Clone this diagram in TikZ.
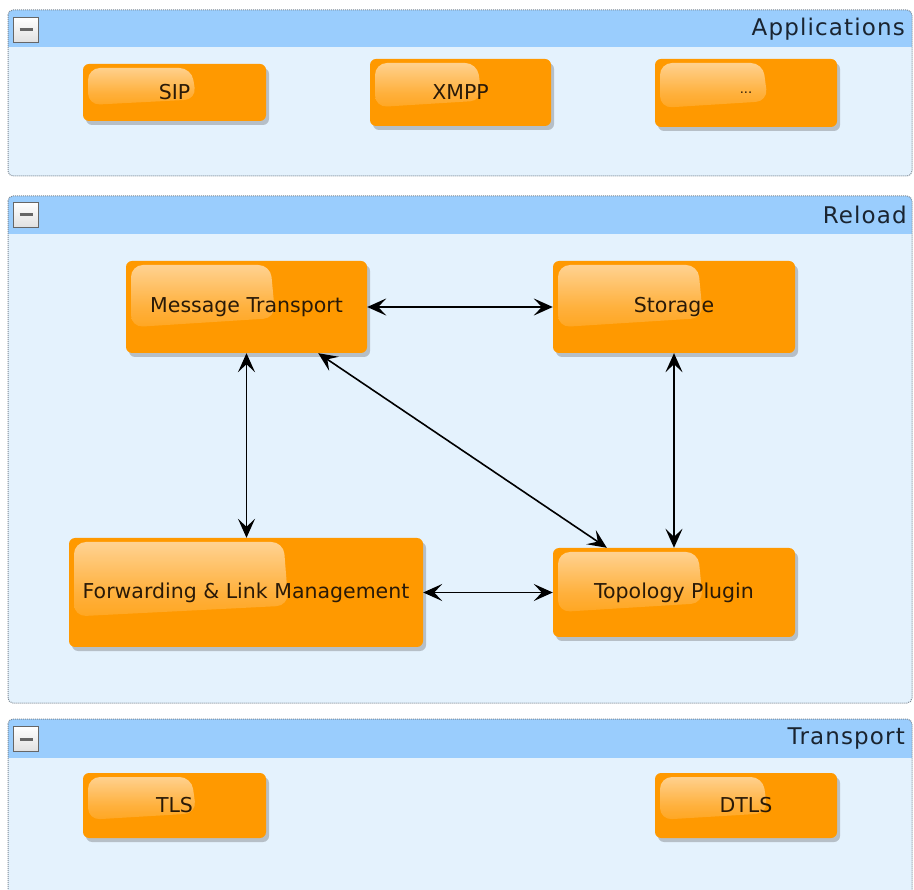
\documentclass[tikz,border=0pt]{standalone}
\usepackage{fontspec}
\setmainfont{DejaVu Sans}
\newfontfamily\paneltitlefont[LetterSpace=5]{DejaVu Sans}
\usetikzlibrary{shadows,arrows.meta,calc}
\definecolor{boxorange}{HTML}{FF9900}
\definecolor{glossc}{HTML}{FFDCAA}
\definecolor{panelbody}{HTML}{E4F2FD}
\definecolor{panelhead}{HTML}{9ACDFD}
\definecolor{panelborder}{HTML}{7C8894}
\definecolor{boxtext}{HTML}{2A1A08}
\definecolor{titletext}{HTML}{1A2430}
\begin{document}
\begin{tikzpicture}[x=1pt,y=-1pt,
  compbox/.style={rectangle, rounded corners=6pt, fill=boxorange, draw=none,
    text=boxtext, font=\fontsize{20.5}{24}\selectfont, inner sep=0pt,
    drop shadow={shadow xshift=3pt,shadow yshift=-4pt,opacity=0.3,fill=black!70},
    path picture={
      \fill[rounded corners=12pt, top color=glossc, bottom color=boxorange, middle color=boxorange!60!glossc, opacity=0.9]
        ([xshift=5pt,yshift=-4pt]path picture bounding box.north west)
        -- ([xshift=-5pt,yshift=-4pt]$(path picture bounding box.north west)!0.62!(path picture bounding box.north east)$)
        -- ($(path picture bounding box.north west)!0.62!(path picture bounding box.south east)$)
        -- ([xshift=5pt]$(path picture bounding box.north west)!0.72!(path picture bounding box.south west)$)
        -- cycle;
    }},
  paneltitle/.style={anchor=east, text=titletext, font=\paneltitlefont\fontsize{23}{26}\selectfont, inner sep=0pt},
  collapse/.style={rectangle, draw=black!60, line width=0.8pt, top color=white, bottom color=black!12,
    minimum width=25pt, minimum height=25pt, inner sep=0pt,
    path picture={
      \draw[line width=3pt] ([xshift=6pt]path picture bounding box.west) -- ([xshift=-6pt]path picture bounding box.east);
    }},
  conn/.style={{Stealth[length=19pt,width=17pt,inset=8pt]}-{Stealth[length=19pt,width=17pt,inset=8pt]}, line width=1.6pt, black}
]
\useasboundingbox (0,0) rectangle (914,890);
\fill[white] (0,0) rectangle (914,890);

\begin{scope}
\clip (0,0) rectangle (914,890);
% Applications panel
\fill[panelbody, rounded corners=5pt] (8,10) rectangle (912,176);
\begin{scope}
\clip[rounded corners=5pt] (8,10) rectangle (912,176);
\fill[panelhead] (8,10) rectangle (912,47);
\end{scope}
\draw[panelborder, densely dotted, line width=1pt, rounded corners=5pt] (8,10) rectangle (912,176);
% Reload panel
\fill[panelbody, rounded corners=5pt] (8,196) rectangle (912,703);
\begin{scope}
\clip[rounded corners=5pt] (8,196) rectangle (912,703);
\fill[panelhead] (8,196) rectangle (912,234);
\end{scope}
\draw[panelborder, densely dotted, line width=1pt, rounded corners=5pt] (8,196) rectangle (912,703);
% Transport panel
\fill[panelbody, rounded corners=5pt] (8,719) rectangle (912,910);
\begin{scope}
\clip[rounded corners=5pt] (8,719) rectangle (912,910);
\fill[panelhead] (8,719) rectangle (912,758);
\end{scope}
\draw[panelborder, densely dotted, line width=1pt, rounded corners=5pt] (8,719) rectangle (912,910);
\end{scope}

% panel headers
\node[collapse] (appbtn) at (26,30) {};
\node[paneltitle] (apptitle) at (905,29) {Applications};
\node[collapse] (relbtn) at (26,215) {};
\node[paneltitle] (reltitle) at (907,215) {Reload};
\node[collapse] (trbtn) at (26,739) {};
\node[paneltitle] (trtitle) at (905,739) {Transport};

% Applications
\node[compbox, minimum width=183pt, minimum height=57pt] (sip) at (174.5,92.5) {SIP};
\node[compbox, minimum width=181pt, minimum height=67pt] (xmpp) at (460.5,92.5) {XMPP};
\node[compbox, minimum width=182pt, minimum height=68pt] (etc) at (746,93) {\fontsize{13}{15}\selectfont ...};

% Reload
\node[compbox, minimum width=241pt, minimum height=92pt] (mt) at (246.5,307) {Message Transport};
\node[compbox, minimum width=242pt, minimum height=92pt] (st) at (674,307) {Storage};
\node[compbox, minimum width=242pt, minimum height=89pt] (tp) at (674,592.5) {Topology Plugin};
\node[compbox, minimum width=354pt, minimum height=109pt] (fw) at (246,592.5) {Forwarding \& Link Management};

% Transport
\node[compbox, minimum width=183pt, minimum height=65pt] (tls) at (174.5,805.5) {TLS};
\node[compbox, minimum width=182pt, minimum height=65pt] (dtls) at (746,805.5) {DTLS};

% connectors
\draw[conn] (mt.east) -- (st.west);
\draw[conn] (mt.south) -- (fw.north -| mt.south);
\draw[conn] (st.south) -- (tp.north);
\draw[conn] (fw.east) -- (tp.west);
\coordinate (d1) at ($(mt.south west)!0.797!(mt.south east)$);
\coordinate (d2) at ($(tp.north west)!0.223!(tp.north east)$);
\draw[conn] (d1) -- (d2);
\end{tikzpicture}
\end{document}
